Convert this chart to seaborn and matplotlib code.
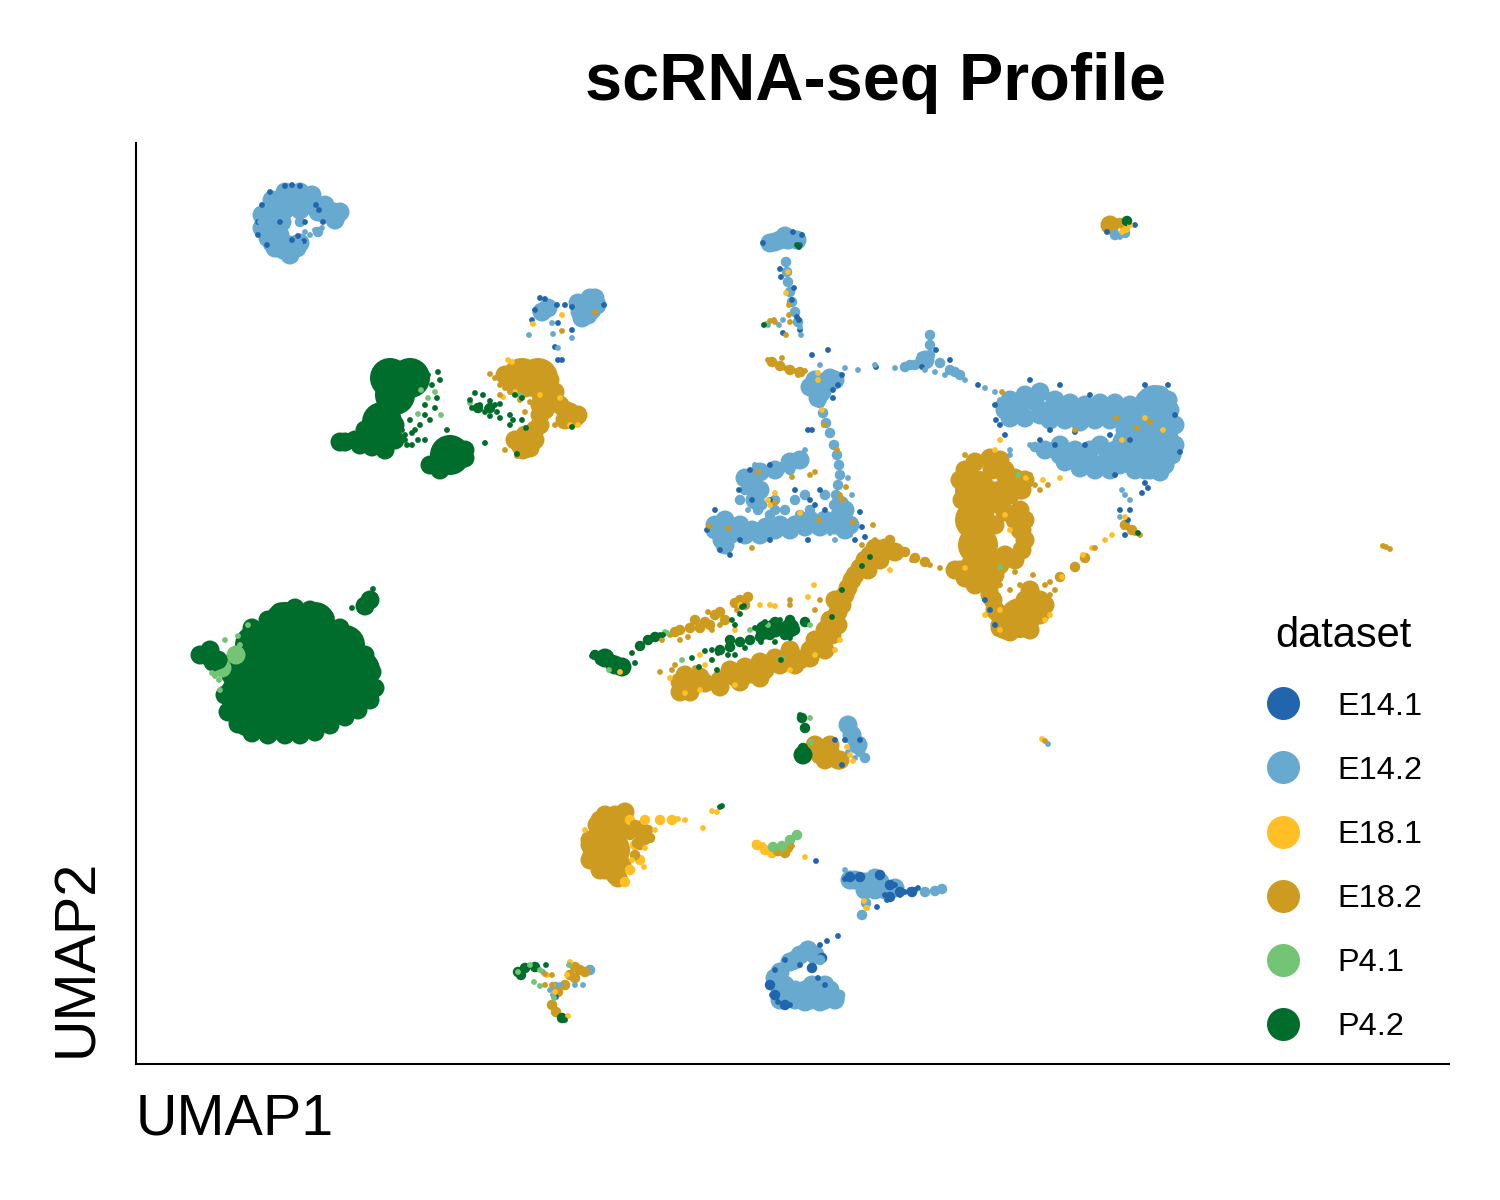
import matplotlib
matplotlib.use("Agg")
import matplotlib.pyplot as plt
from matplotlib.lines import Line2D
import pandas as pd
import seaborn as sns

DATASETS = ["E14.1", "E14.2", "E18.1", "E18.2", "P4.1", "P4.2"]
COLOURS = ["#2166AC", "#67A9CF", "#FFBF25", "#CC9B1F", "#74C476", "#006D2C"]

# Values, as (UMAP1, UMAP2) on a unitless scale.
# "masses", "clumps" and "strands" stand for many overlapping cells, "cells" for single ones.
E142_MASSES = [(1150, 425), (1155, 448), (1132, 445), (1155, 405)]
E182_MASSES = [(975, 490), (975, 520), (978, 545), (1020, 618), (610, 850), (522, 378), (538, 378)]
P42_MASSES = [(285, 622), (315, 622), (255, 645), (285, 645), (315, 645), (345, 645),
              (240, 670), (270, 670), (300, 670), (330, 670), (360, 670),
              (240, 695), (270, 695), (300, 695), (330, 695), (360, 690),
              (250, 717), (280, 720), (310, 717), (340, 703),
              (390, 378), (410, 378), (395, 395), (382, 422), (450, 455)]

E142_CLUMPS = [(278, 200), (295, 198), (312, 205), (270, 212), (268, 228), (285, 210), (300, 210),
               (318, 212), (325, 214), (338, 214), (334, 212), (272, 243), (283, 250), (297, 248),
               (290, 255), (272, 200), (285, 192), (300, 192), (262, 215), (262, 228), (275, 222),
               (312, 195), (328, 210), (340, 212), (335, 220), (325, 205), (268, 238), (290, 245),
               (275, 248), (282, 222), (280, 235), (300, 243), (308, 205),
               (585, 305), (590, 298), (592, 310), (580, 312), (582, 318), (542, 312),
               (578, 303), (597, 305), (595, 298), (588, 315), (548, 308),
               (775, 242), (788, 240), (797, 240), (770, 243), (780, 240), (785, 236),
               (815, 380), (830, 378), (810, 387), (822, 392), (835, 380), (818, 398),
               (745, 478), (760, 472), (775, 470), (790, 462), (800, 460), (760, 490), (755, 500),
               (715, 525), (725, 528), (738, 530), (752, 530), (766, 527), (780, 525), (795, 525),
               (810, 520), (825, 520), (840, 515), (845, 530), (722, 540), (725, 545),
               (715, 530), (730, 535), (745, 535), (725, 520), (740, 525), (760, 535), (775, 530),
               (790, 530), (805, 527), (820, 527), (835, 525), (850, 525), (840, 505), (845, 510),
               (1005, 410), (1020, 405), (1035, 402), (1050, 410), (1065, 412), (1080, 415), (1095, 412),
               (1110, 410), (1125, 408), (1040, 415), (1015, 415), (1160, 395), (1168, 400), (1170, 410),
               (1135, 420), (1045, 450), (1060, 455), (1075, 460), (1090, 462), (1105, 462), (1120, 465),
               (1135, 470), (1150, 470), (1165, 465), (1172, 455), (1170, 440), (1060, 445), (1100, 445),
               (1115, 450), (1125, 430), (1010, 400), (1025, 395), (1040, 392), (1055, 400), (1070, 403),
               (1085, 405), (1100, 403), (1115, 403), (1130, 405), (1010, 418), (1025, 418), (1050, 420),
               (1065, 420), (1080, 422), (1095, 420), (1110, 420), (1125, 418), (1145, 400), (1175, 425),
               (1175, 445), (1065, 462), (1080, 468), (1095, 470), (1110, 470), (1130, 460), (1145, 470),
               (1160, 472), (1090, 450), (1075, 450),
               (865, 882), (880, 882), (875, 890), (855, 880), (865, 890), (885, 890), (895, 888),
               (875, 878), (850, 880),
               (780, 972), (778, 985), (785, 995), (795, 1000), (810, 1000), (825, 1000), (815, 990),
               (825, 985), (808, 950), (815, 955), (795, 960), (835, 998), (775, 978), (780, 1000),
               (805, 1002), (820, 1002), (835, 1000), (830, 990), (812, 985), (805, 990), (795, 990),
               (785, 985), (800, 955), (790, 962), (830, 996),
               (925, 360), (848, 725), (852, 735), (858, 745)]
E182_CLUMPS = [(520, 372), (550, 380), (530, 385), (545, 390), (510, 380), (555, 392), (505, 375),
               (540, 405), (525, 435), (520, 445), (530, 448), (535, 430), (540, 415), (560, 405),
               (570, 412), (575, 418), (565, 420), (515, 440), (528, 440), (523, 450), (535, 440),
               (540, 425), (545, 410), (550, 400), (565, 410), (572, 415), (578, 415),
               (960, 480), (962, 500), (965, 470), (975, 462), (990, 458), (1000, 460), (1005, 475),
               (1020, 490), (1010, 490), (1025, 520), (1025, 540), (1020, 530), (1015, 560), (1000, 565),
               (1005, 470), (1015, 478), (1022, 490), (1010, 495), (1000, 490), (1025, 480), (992, 470),
               (990, 490), (990, 505), (995, 525), (1000, 505), (1005, 512), (1015, 520), (1022, 530),
               (1022, 550), (1005, 555), (990, 560), (995, 575), (1020, 510),
               (960, 570), (975, 572), (985, 578), (965, 578), (955, 570), (970, 565), (985, 568),
               (990, 585), (975, 585), (990, 595), (995, 610), (993, 600), (997, 612), (1000, 625),
               (1005, 630), (1035, 605), (1040, 600), (1030, 590), (1000, 628), (1010, 632), (1030, 630),
               (1040, 615), (1030, 595), (1045, 605), (1035, 608), (1025, 600),
               (680, 682), (692, 684), (705, 683), (720, 680), (735, 677), (750, 674), (765, 670),
               (780, 665), (795, 658), (810, 650), (822, 642), (832, 635), (838, 625), (838, 612),
               (845, 595), (852, 580), (860, 568), (870, 555), (885, 548), (895, 552), (685, 675),
               (700, 677), (730, 670), (745, 667), (760, 662), (775, 658), (790, 650), (800, 660),
               (815, 640), (825, 630), (830, 620), (825, 650), (810, 658), (795, 665), (760, 678),
               (740, 682), (720, 687), (690, 692), (680, 692), (835, 600), (842, 605), (848, 588),
               (855, 575), (865, 560), (875, 548), (880, 560), (868, 570),
               (825, 748), (820, 755), (832, 757), (840, 760), (830, 745), (818, 750), (830, 752),
               (838, 760), (825, 760), (815, 745),
               (600, 820), (612, 818), (625, 812), (610, 830), (590, 845), (592, 855), (605, 870),
               (618, 878), (640, 830), (597, 825), (605, 815), (615, 815), (600, 835), (615, 835),
               (625, 830), (590, 840), (590, 860), (600, 870), (615, 875), (622, 865), (1110, 225)]
P42_CLUMPS = [(225, 695), (228, 712), (238, 724), (252, 733), (268, 735), (285, 735), (300, 735),
              (315, 732), (330, 725), (345, 717), (358, 710), (370, 700), (375, 688), (372, 672),
              (365, 655), (352, 640), (340, 628), (325, 618), (310, 610), (295, 608), (280, 612),
              (268, 620), (252, 628), (205, 655), (213, 662), (200, 655), (210, 650), (218, 660),
              (370, 600), (365, 606), (385, 410), (375, 420), (365, 430), (385, 425), (355, 440),
              (370, 440), (385, 440), (345, 442), (395, 440), (360, 445), (372, 447), (385, 450),
              (395, 425), (340, 442), (430, 465), (440, 470), (465, 450), (465, 458),
              (775, 628), (790, 628), (765, 630), (605, 658), (615, 665), (622, 667), (803, 755)]
P41_CLUMPS = [(222, 668), (236, 655)]

E141_STRANDS = [(850, 877), (880, 875), (890, 885), (900, 892), (912, 892), (890, 897), (860, 877),
                (770, 985), (775, 995), (785, 1005), (812, 968), (822, 958)]
E142_STRANDS = [(786, 262), (787, 272), (788, 282), (790, 292), (792, 302), (795, 312), (798, 322),
                (820, 403), (823, 413), (826, 423), (830, 433), (834, 445), (837, 455), (839, 465),
                (840, 475), (838, 485), (836, 495), (834, 505), (750, 477), (765, 472), (780, 470),
                (795, 462), (803, 458), (745, 490), (755, 485), (755, 495), (762, 505), (775, 500),
                (790, 470), (930, 335), (930, 345), (930, 355), (915, 365), (905, 367),
                (940, 363), (950, 370), (960, 375), (955, 372), (910, 365), (1035, 447), (1045, 450),
                (1000, 405), (845, 725), (850, 735), (855, 745), (860, 752), (865, 758), (925, 892),
                (935, 891), (942, 889), (866, 903), (862, 915), (1115, 235), (1125, 233), (555, 987),
                (590, 970), (840, 995), (820, 960), (810, 947), (296, 240), (318, 232), (300, 222),
                (750, 490), (758, 510), (770, 515), (785, 510), (795, 500), (805, 495), (810, 510),
                (825, 495), (800, 515), (775, 510), (740, 500)]
E181_STRANDS = [(630, 820), (645, 820), (660, 820), (672, 820), (630, 870), (625, 882), (640, 860),
                (635, 845), (757, 845), (765, 850), (772, 853), (1125, 228)]
E182_STRANDS = [(772, 362), (780, 366), (790, 370), (800, 372), (675, 632), (690, 628), (705, 622),
                (720, 612), (735, 603), (748, 597), (745, 605), (905, 552), (915, 558), (925, 562),
                (635, 825), (640, 835), (648, 830), (650, 838), (637, 843), (778, 851), (788, 848),
                (785, 853), (580, 970), (575, 967), (585, 972), (570, 975), (565, 985), (558, 992),
                (552, 1005), (556, 1012), (575, 978), (1120, 223), (1125, 525), (1132, 530),
                (890, 540), (1060, 577), (1075, 567), (1085, 558), (630, 835), (640, 845), (625, 850),
                (635, 855), (645, 840), (680, 630), (695, 620), (710, 625), (725, 620), (740, 600),
                (700, 628), (715, 615)]
P41_STRANDS = [(773, 847), (782, 846), (790, 840), (797, 835)]
P42_STRANDS = [(720, 650), (730, 647), (740, 642), (750, 640), (760, 637), (770, 635), (785, 635),
               (795, 630), (805, 622), (775, 622), (790, 620), (730, 640), (595, 655), (600, 660),
               (610, 662), (620, 668), (613, 660), (625, 665), (640, 646), (648, 640), (655, 637),
               (802, 718), (805, 728), (803, 748), (805, 757), (518, 972), (525, 968), (535, 967),
               (521, 975), (562, 1018), (1127, 221), (478, 408), (490, 408)]

E141_CELLS = [(285, 186), (292, 185), (300, 186), (262, 205), (258, 222), (258, 235), (267, 245),
              (270, 192), (298, 236), (305, 222), (292, 240), (304, 241), (316, 205), (319, 210),
              (323, 222), (280, 222), (540, 298), (545, 299), (535, 310), (532, 320), (557, 305),
              (565, 305), (572, 307), (558, 323), (604, 305), (572, 330), (555, 347), (558, 360),
              (562, 360), (763, 243), (802, 235), (800, 245), (793, 232), (780, 269), (781, 277),
              (794, 288), (792, 300), (797, 317), (799, 320), (800, 330), (783, 333), (812, 355),
              (828, 350), (842, 375), (838, 385), (833, 390), (833, 398), (808, 430), (812, 430),
              (876, 367), (922, 367), (936, 350), (950, 360), (978, 385), (995, 405), (996, 420),
              (1000, 425), (1030, 380), (1060, 385), (1090, 395), (1145, 385), (1168, 385),
              (1175, 415), (1180, 452), (1050, 430), (1055, 445), (1075, 432), (1085, 445),
              (1110, 435), (1130, 440), (1115, 475), (1145, 483), (1148, 488), (1005, 435),
              (1040, 440), (1130, 510), (1128, 520), (1142, 493), (739, 490), (750, 470), (770, 465),
              (752, 500), (770, 500), (795, 490), (810, 500), (815, 505), (820, 490), (715, 510),
              (707, 530), (720, 550), (730, 555), (740, 540), (770, 540), (808, 540), (825, 510),
              (860, 512), (862, 527), (985, 600), (990, 610), (995, 625), (855, 540), (865, 537),
              (835, 740), (845, 740), (842, 765), (860, 740), (845, 879),
              (895, 885), (905, 892), (910, 890), (885, 895), (887, 900), (900, 895), (915, 890),
              (918, 888), (877, 907), (827, 941), (838, 936), (816, 861), (772, 995),
              (778, 1002), (790, 1005), (775, 970), (785, 960), (800, 965), (820, 945),
              (818, 978), (825, 985), (1107, 232), (1135, 225), (553, 985), (556, 997),
              (1120, 510), (1125, 535)]
E142_CELLS = [(768, 325), (779, 325), (783, 320), (801, 335), (800, 327),
              (529, 335), (552, 323), (553, 334), (572, 338), (558, 348), (578, 314),
              (848, 478), (852, 495), (875, 365), (858, 370), (845, 368),
              (895, 368), (925, 370), (935, 372), (945, 375),
              (965, 380), (985, 388), (995, 392), (1000, 400), (755, 465), (800, 455), (805, 450),
              (748, 510), (1125, 495), (1130, 500), (1122, 490), (1120, 517),
              (848, 752), (855, 758), (1120, 237), (550, 990),
              (553, 995), (560, 985), (575, 985), (583, 985), (592, 970), (543, 972),
              (1048, 744), (850, 535), (830, 533), (848, 520), (835, 540), (1030, 445),
              (1010, 450), (1010, 455), (845, 870), (920, 355), (820, 365), (829, 372),
              (305, 232), (315, 230), (300, 220), (285, 225), (282, 232), (310, 235), (322, 228),
              (285, 238), (300, 243), (260, 222), (258, 210)]
E181_CELLS = [(508, 360), (512, 362), (560, 398), (578, 425), (570, 425), (540, 395), (503, 397),
              (515, 392), (533, 324), (562, 315), (788, 272), (786, 293), (818, 373), (818, 380),
              (822, 410), (768, 500), (775, 493), (770, 505), (800, 513), (1000, 440), (995, 450),
              (1043, 480), (1060, 478), (1026, 478), (1005, 515), (1010, 530), (965, 568),
              (1125, 517), (1105, 540), (1092, 548), (1112, 535), (1083, 555),
              (1062, 577), (814, 585), (808, 597), (770, 605), (775, 606), (760, 605), (740, 605),
              (700, 655), (705, 665), (735, 630), (670, 678), (685, 693), (700, 690), (735, 685),
              (790, 670), (815, 655), (835, 650), (840, 640), (890, 570), (620, 672), (847, 747),
              (850, 755), (853, 761), (1042, 739), (1122, 232), (1130, 225), (678, 819), (685, 820),
              (632, 860), (644, 867), (585, 830), (655, 830), (645, 848),
              (703, 828), (712, 811), (717, 812), (755, 843),
              (763, 845), (805, 857), (864, 901), (866, 908), (867, 908), (567, 975), (570, 962),
              (547, 975), (568, 1016), (553, 985), (555, 992), (1000, 630), (1045, 620), (1050, 615),
              (1122, 440), (1145, 418), (1163, 430), (1000, 610), (985, 615)]
E182_CELLS = [(595, 312), (562, 331), (789, 305), (789, 315), (790, 322), (786, 335), (770, 321),
              (774, 320), (775, 322), (768, 360), (785, 368), (795, 371), (805, 371), (798, 375),
              (802, 374), (782, 358),
              (824, 425), (837, 450), (846, 487), (840, 495), (842, 500), (775, 503), (758, 472),
              (792, 477), (810, 475), (815, 472), (709, 526), (728, 528), (752, 548), (819, 520),
              (853, 522), (873, 525), (875, 540), (862, 545), (912, 560), (930, 565), (940, 568),
              (955, 565), (1050, 582), (1095, 548), (1130, 530), (1135, 533), (1140, 535), (1150, 422),
              (1137, 428), (1116, 418), (1075, 430), (1002, 392), (1040, 490), (1048, 485),
              (708, 612), (688, 637), (662, 640), (670, 635),
              (680, 640), (700, 630), (712, 630), (720, 625), (737, 610), (790, 600), (790, 605),
              (815, 610), (820, 600), (660, 672), (672, 670), (685, 670), (695, 668), (675, 665),
              (1045, 741), (1386, 547), (1383, 546), (1390, 549), (1115, 226),
              (792, 846), (545, 985), (552, 985), (545, 974), (552, 975), (505, 388), (500, 385),
              (495, 378), (500, 395), (510, 392), (520, 400), (530, 402), (525, 412), (535, 398),
              (543, 425), (505, 450), (517, 456), (555, 425), (490, 374), (1050, 595), (1055, 590),
              (1045, 585), (1020, 585), (1010, 590), (1015, 572), (1000, 585),
              (1033, 575), (965, 455), (1030, 475), (1035, 485)]
P41_CELLS = [(215, 676), (212, 673), (233, 650), (240, 645), (219, 680), (220, 690), (225, 640),
             (248, 625), (238, 636), (418, 414), (428, 398), (421, 390), (435, 392), (441, 415),
             (470, 403), (520, 395), (1018, 475), (1000, 567), (665, 632), (667, 633), (750, 630),
             (768, 625), (810, 625), (782, 658), (682, 660), (609, 670), (810, 718), (811, 742),
             (518, 972), (530, 965), (540, 970), (534, 982), (540, 986), (569, 965), (554, 998),
             (766, 324)]
P42_CELLS = [(797, 245), (799, 247), (764, 325), (1129, 222), (1125, 222), (373, 589),
             (375, 596), (352, 608), (360, 610), (428, 375), (432, 385), (438, 372), (440, 380),
             (437, 398), (425, 405), (405, 435), (415, 430), (412, 445), (420, 425), (430, 420),
             (410, 420), (425, 415), (435, 408), (447, 430), (485, 443), (472, 408), (480, 405),
             (487, 408), (495, 405), (500, 404), (485, 412), (478, 410), (490, 401), (497, 412),
             (475, 393), (483, 395), (515, 395), (522, 398), (510, 415), (513, 420), (522, 420),
             (510, 425), (526, 428), (572, 427), (517, 454), (490, 416), (500, 418), (470, 400),
             (732, 620), (735, 625), (712, 650), (718, 653), (705, 651), (728, 655),
             (745, 648), (755, 628), (765, 622), (780, 620), (790, 638),
             (775, 642), (761, 642), (735, 655), (712, 660), (742, 607), (740, 614), (744, 606),
             (632, 653), (660, 635), (597, 657), (592, 656), (635, 663),
             (663, 635), (692, 658), (699, 667), (717, 670), (781, 660),
             (870, 557), (862, 566), (842, 590), (832, 617), (800, 715),
             (720, 807), (722, 806), (546, 965), (565, 1020), (1138, 533),
             (407, 445), (418, 440), (412, 433), (425, 440), (402, 430), (405, 440)]

LAYERS = [
    ("masses", {"E14.2": E142_MASSES, "E18.2": E182_MASSES, "P4.2": P42_MASSES}),
    ("clumps", {"E14.2": E142_CLUMPS, "E18.2": E182_CLUMPS, "P4.1": P41_CLUMPS, "P4.2": P42_CLUMPS}),
    ("strands", {"E14.1": E141_STRANDS, "E14.2": E142_STRANDS, "E18.1": E181_STRANDS,
                 "E18.2": E182_STRANDS, "P4.1": P41_STRANDS, "P4.2": P42_STRANDS}),
    ("cells", {"E14.1": E141_CELLS, "E14.2": E142_CELLS, "E18.1": E181_CELLS, "E18.2": E182_CELLS,
               "P4.1": P41_CELLS, "P4.2": P42_CELLS}),
]

def px_to_pt2(d):
    return (d * 72 / 300) ** 2

SIZES = {"masses": px_to_pt2(40), "clumps": px_to_pt2(19), "strands": px_to_pt2(10.5), "cells": px_to_pt2(5.8)}

rows = []
for layer, groups in LAYERS:
    for name in DATASETS:
        for u1, u2 in groups.get(name, []):
            rows.append({"UMAP1": u1, "UMAP2": u2, "dataset": name, "layer": layer})
df = pd.DataFrame(rows)

sns.set_theme(style="white", rc={"axes.edgecolor": "black", "text.color": "black"})
plt.rcParams["font.family"] = ["Liberation Sans", "DejaVu Sans"]

fig = plt.figure(figsize=(5, 4), dpi=300)
ax = fig.add_axes([136 / 1500, 1 - 1064 / 1200, (1449 - 136) / 1500, (1064 - 143) / 1200])
palette = dict(zip(DATASETS, COLOURS))
for layer, size in SIZES.items():
    sns.scatterplot(data=df[df["layer"] == layer], x="UMAP1", y="UMAP2", hue="dataset", hue_order=DATASETS,
                    palette=palette, s=size, linewidth=0, alpha=1, legend=False, ax=ax)

ax.set_xlim(136, 1449)
ax.set_ylim(1064, 143)
ax.set_xticks([])
ax.set_yticks([])
sns.despine(ax=ax)
for side in ("left", "bottom"):
    ax.spines[side].set_linewidth(0.5)
    ax.spines[side].set_color("black")

ax.set_xlabel("")
ax.set_ylabel("")
ax.text(0, -0.0605, "UMAP1", transform=ax.transAxes, fontsize=13.8, ha="left", va="center", color="black")
ax.text(-0.045, 0.0075, "UMAP2", transform=ax.transAxes, fontsize=13.8, ha="center", va="bottom",
        rotation=90, color="black")
ax.text(0.563, 1.0467, "scRNA-seq Profile", transform=ax.transAxes, fontsize=16, fontweight="bold",
        ha="center", va="baseline", color="black")
ax.text((1343 - 136) / 1313, (1064 - 636) / 921, "dataset", transform=ax.transAxes, fontsize=10,
        ha="center", va="center", color="black")

handles = [Line2D([], [], linestyle="none", marker="o", markersize=33 * 72 / 300, markeredgewidth=0,
                  color=c, label=n) for n, c in zip(DATASETS, COLOURS)]
leg = ax.legend(handles=handles, frameon=False, fontsize=7.8, labelcolor="black",
                loc="lower left", bbox_to_anchor=((1267 - 136) / 1313, 0.0235), borderpad=0, borderaxespad=0,
                labelspacing=1.05, handlelength=1.0, handletextpad=1.15)
fig.savefig("out.png", dpi=300, facecolor="white")
